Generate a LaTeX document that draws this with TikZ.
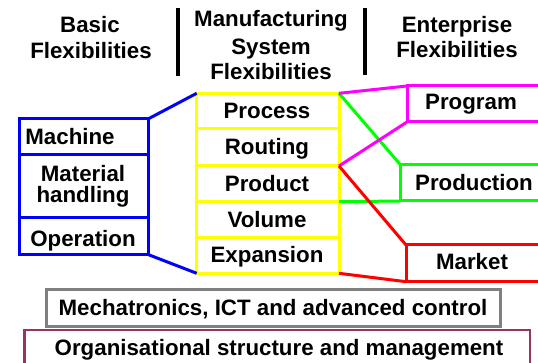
\documentclass[tikz,border=0pt]{standalone}
\usepackage{fontspec}
\setmainfont{Liberation Sans}
\definecolor{pgreen}{RGB}{0,255,0}
\definecolor{pmag}{RGB}{255,0,255}
\definecolor{pyel}{RGB}{255,255,0}
\definecolor{pblue}{RGB}{0,0,255}
\definecolor{pred}{RGB}{255,0,0}
\definecolor{pgray}{RGB}{128,128,128}
\definecolor{ppurple}{RGB}{153,51,102}
\begin{document}
\begin{tikzpicture}[x=1pt,y=-1pt,
  every node/.style={font=\fontsize{22.3}{26}\selectfont\bfseries},
  txt/.style={anchor=base,inner sep=0pt},
  boxy/.style={draw,line width=3pt,inner sep=0pt,outer sep=0pt,anchor=north west,minimum width=#1},
  bar/.style={line width=4pt,black},
  conn/.style={line width=3pt}]
\useasboundingbox (0,0) rectangle (538,363);
% Blue column
\node[boxy=128.5,draw=pblue,minimum height=35.5] (machine) at (19.5,119) {};
\node[boxy=128.5,draw=pblue,minimum height=63.5] (material) at (19.5,154.5) {};
\node[boxy=128.5,draw=pblue,minimum height=36.5] (operation) at (19.5,218) {};
% Yellow column
\node[boxy=142.3,draw=pyel,minimum height=35] (process) at (196.7,93.3) {};
\node[boxy=142.3,draw=pyel,minimum height=37.7] (routing) at (196.7,128.3) {};
\node[boxy=142.3,draw=pyel,minimum height=35.7] (product) at (196.7,166) {};
\node[boxy=142.3,draw=pyel,minimum height=36] (volume) at (196.7,201.7) {};
\node[boxy=142.3,draw=pyel,minimum height=35.6] (expansion) at (196.7,237.7) {};
% Enterprise boxes (right edges run off the page)
\node[boxy=150,draw=pmag,minimum height=36] (program) at (407,86) {};
\node[boxy=150,draw=pgreen,minimum height=36.7] (production) at (400,164.3) {};
\node[boxy=150,draw=pred,minimum height=36.7] (market) at (406,245) {};
% Bottom boxes
\node[boxy=454,draw=pgray,minimum height=36.7] (mecha) at (46,290) {};
\node[boxy=505.7,draw=ppurple,line width=2.5pt,minimum height=45] (organ) at (24.3,330) {};
% Connectors
\draw[conn,pblue] (machine.north east) -- (process.north west);
\draw[conn,pblue] (operation.south east) -- (expansion.south west);
\draw[conn,pgreen] (process.north east) -- (production.north west);
\draw[conn,pgreen] (product.south east) -- (production.south west);
\draw[conn,pmag] (process.north east) -- (program.north west);
\draw[conn,pmag] (routing.south east) -- (program.south west);
\draw[conn,pred] (product.north east) -- (market.north west);
\draw[conn,pred] (expansion.south east) -- (market.south west);
% Header separators
\coordinate (b1t) at (178,8); \coordinate (b1b) at (178,76.5);
\coordinate (b2t) at (365,8); \coordinate (b2b) at (365,75);
\draw[bar] (b1t) -- (b1b);
\draw[bar] (b2t) -- (b2b);
% Header texts
\node[txt] (h1a) at (90,32.7) {Basic};
\node[txt] (h1b) at (91,59) {Flexibilities};
\node[txt] (h2a) at (271,27) {Manufacturing};
\node[txt] (h2b) at (271,55) {System};
\node[txt] (h2c) at (271,80) {Flexibilities};
\node[txt] (h3a) at (457,33) {Enterprise};
\node[txt] (h3b) at (457,58) {Flexibilities};
% Box texts
\node[txt] (tmachine) at (70,145) {Machine};
\node[txt] (tmat1) at (83,182) {Material};
\node[txt] (tmat2) at (83,203) {handling};
\node[txt] (toper) at (83,247) {Operation};
\node[txt] (tproc) at (267,118.5) {Process};
\node[txt] (trout) at (267,155) {Routing};
\node[txt] (tprod) at (267,191.5) {Product};
\node[txt] (tvol) at (267,227.5) {Volume};
\node[txt] (texp) at (267,263) {Expansion};
\node[txt] (tprog) at (471,110) {Program};
\node[txt] (tprodn) at (474,191) {Production};
\node[txt] (tmark) at (472,270) {Market};
\node[txt] (tmecha) at (273,316) {Mechatronics, ICT and advanced control};
\node[txt] (torgan) at (279,355) {Organisational structure and management};
\end{tikzpicture}
\end{document}
